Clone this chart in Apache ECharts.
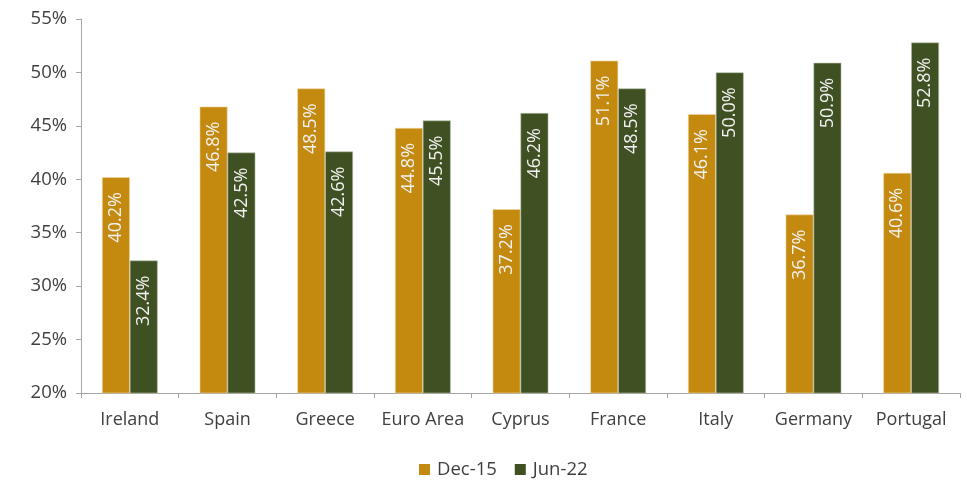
<!DOCTYPE html>
<html>
<head>
<meta charset="utf-8">
<script src="https://cdn.jsdelivr.net/npm/echarts@6/dist/echarts.min.js"></script>
<style>html,body{margin:0;padding:0;background:#fff}#c{width:967px;height:480px}</style>
</head>
<body>
<div id="c"></div>
<script>
var categories = ['Ireland','Spain','Greece','Euro Area','Cyprus','France','Italy','Germany','Portugal'];
var dec15 = [40.2, 46.8, 48.5, 44.8, 37.2, 51.1, 46.1, 36.7, 40.6];
var jun22 = [32.4, 42.5, 42.6, 45.5, 46.2, 48.5, 50.0, 50.9, 52.8];
var seriesNames = ['Dec-15','Jun-22'];

var font = '"Open Sans", "Liberation Sans", sans-serif';
var labelCfg = {
  show: true, position: 'insideTop', rotate: 90, align: 'right', verticalAlign: 'middle',
  distance: 15, color: '#f2f2f2', fontSize: 18, fontFamily: font,
  formatter: function(p){ return p.value.toFixed(1) + '%'; }
};
var chart = echarts.init(document.getElementById('c'));
chart.setOption({
  animation: false,
  grid: { left: 81, right: 7, top: 19, bottom: 87 },
  legend: {
    top: 455, left: 414, itemWidth: 11, itemHeight: 11, itemGap: 18,
    icon: 'rect', itemStyle: { borderWidth: 0 },
    textStyle: { color: '#404040', fontSize: 18.5, fontFamily: font, padding: [0,0,0,2] }
  },
  xAxis: {
    type: 'category', data: categories,
    axisLine: { lineStyle: { color: '#a6a6a6', width: 1 } },
    axisTick: { show: true, length: 5, lineStyle: { color: '#a6a6a6' } },
    axisLabel: { color: '#404040', fontSize: 18, fontFamily: font, margin: 18, interval: 0 }
  },
  yAxis: {
    type: 'value', min: 20, max: 55, interval: 5,
    axisLine: { show: true, lineStyle: { color: '#a6a6a6', width: 1 } },
    axisTick: { show: true, length: 5, lineStyle: { color: '#a6a6a6' } },
    splitLine: { show: false },
    axisLabel: { color: '#404040', fontSize: 18.5, fontFamily: font, margin: 14,
      formatter: '{value}%' }
  },
  series: [
    { name: seriesNames[0], type: 'bar', data: dec15, barGap: '0%', barCategoryGap: '43%',
      itemStyle: { color: '#C4890F', borderColor: '#f0d9a8', borderWidth: 0.6 },
      label: labelCfg },
    { name: seriesNames[1], type: 'bar', data: jun22, barGap: '0%', barCategoryGap: '43%',
      itemStyle: { color: '#3F5023', borderColor: '#b6bfa8', borderWidth: 0.6 },
      label: labelCfg }
  ]
});
</script>
</body>
</html>
